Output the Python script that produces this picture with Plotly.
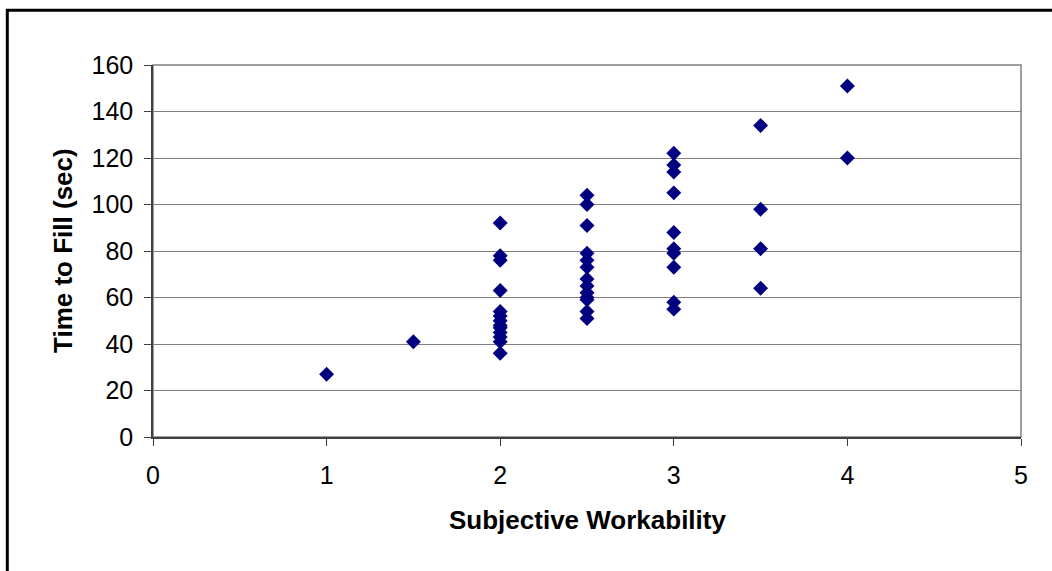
import plotly.graph_objects as go

# Data
workability = [1, 1.5,
               2, 2, 2, 2, 2, 2, 2, 2, 2, 2, 2, 2, 2,
               2.5, 2.5, 2.5, 2.5, 2.5, 2.5, 2.5, 2.5, 2.5, 2.5, 2.5, 2.5, 2.5,
               3, 3, 3, 3, 3, 3, 3, 3, 3, 3,
               3.5, 3.5, 3.5, 3.5,
               4, 4]
time_to_fill = [27, 41,
                92, 78, 76, 63, 54, 52, 50, 48, 47, 45, 43, 41, 36,
                104, 100, 91, 79, 76, 73, 68, 65, 62, 60, 59, 54, 51,
                122, 117, 114, 105, 88, 81, 79, 73, 58, 55,
                134, 98, 81, 64,
                151, 120]
x_ticks = [0, 1, 2, 3, 4, 5]
y_ticks = [0, 20, 40, 60, 80, 100, 120, 140, 160]

W, H = 1052, 571
L, R, T, B = 153, 1021, 65, 437  # plot area pixel box
pw, ph = R - L, B - T

def px(xp):
    return (xp - L) / pw

def py(yp):
    return (B - yp) / ph

fig = go.Figure()
fig.add_trace(go.Scatter(
    x=workability, y=time_to_fill, mode="markers",
    marker=dict(symbol="diamond", size=11.5, color="#000080",
                line=dict(width=0)),
    hoverinfo="x+y", showlegend=False,
))

font = "Liberation Sans, Arial, sans-serif"
fig.update_layout(
    width=W, height=H,
    margin=dict(l=L, r=W - R, t=T, b=H - B, pad=0),
    paper_bgcolor="white", plot_bgcolor="white",
    font=dict(family=font, size=25, color="black"),
    xaxis=dict(range=[0, 5], tickvals=x_ticks, ticks="outside", ticklen=7,
               tickcolor="#404040", showline=True, linecolor="#404040",
               linewidth=1.5, showgrid=False, zeroline=False,
               tickfont=dict(size=25), ticklabelstandoff=8),
    yaxis=dict(range=[0, 160], tickvals=y_ticks, ticks="outside", ticklen=7,
               tickcolor="#404040", showline=True, linecolor="#404040",
               linewidth=1.5, showgrid=True, gridcolor="#808080",
               gridwidth=1, zeroline=False, tickfont=dict(size=25),
               ticklabelstandoff=6),
    shapes=[
        # plot area border (gray)
        dict(type="rect", xref="paper", yref="paper", x0=0, x1=1, y0=0, y1=1,
             line=dict(color="#808080", width=1.5), layer="below"),
        # outer chart border
        dict(type="rect", xref="paper", yref="paper",
             x0=px(7.3), x1=px(1065), y0=py(585), y1=py(10.3),
             line=dict(color="black", width=3)),
    ],
    annotations=[
        dict(text="<b>Subjective Workability</b>", xref="paper", yref="paper",
             x=px(587), y=py(520), showarrow=False, xanchor="center",
             yanchor="middle", font=dict(size=26, family=font)),
        dict(text="<b>Time to Fill (sec)</b>", xref="paper", yref="paper",
             x=px(63), y=py(251), showarrow=False, xanchor="center",
             yanchor="middle", textangle=-90, font=dict(size=26, family=font)),
    ],
)

fig.write_html("out.html")
